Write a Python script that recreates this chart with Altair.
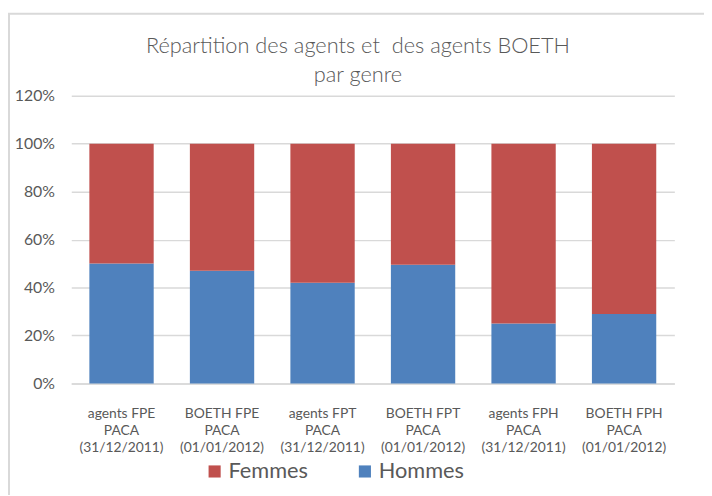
import altair as alt
import pandas as pd

categories = [
    "agents FPE|PACA|(31/12/2011)",
    "BOETH FPE|PACA|(01/01/2012)",
    "agents FPT|PACA|(31/12/2011)",
    "BOETH FPT|PACA|(01/01/2012)",
    "agents FPH|PACA|(31/12/2011)",
    "BOETH FPH|PACA|(01/01/2012)",
]
hommes = [0.50, 0.47, 0.42, 0.495, 0.25, 0.29]
femmes = [1 - h for h in hommes]
series = ["Femmes", "Hommes"]
colors = ["#C0504D", "#4F81BD"]

rows = []
for c, h, f in zip(categories, hommes, femmes):
    rows.append({"cat": c, "genre": "Hommes", "val": h, "ord": 0})
    rows.append({"cat": c, "genre": "Femmes", "val": f, "ord": 1})
df = pd.DataFrame(rows)

FONT = "Lato"
GREY = "#595959"

bars = alt.Chart(df).mark_bar().encode(
    x=alt.X("cat:N", sort=categories, title=None,
            scale=alt.Scale(paddingInner=0.36, paddingOuter=0.18),
            axis=alt.Axis(labelExpr="split(datum.label, '|')", labelAngle=0,
                          labelFontSize=14, labelColor=GREY, labelFont=FONT,
                          labelLineHeight=17.5, labelBaseline="top", labelPadding=23,
                          ticks=False, domainColor="#d9d9d9", domainWidth=1.5)),
    y=alt.Y("val:Q", stack="zero", title=None,
            scale=alt.Scale(domain=[0, 1.2], nice=False),
            axis=alt.Axis(format=".0%", values=[0, 0.2, 0.4, 0.6, 0.8, 1.0, 1.2],
                          labelFontSize=16, labelColor=GREY, labelFont=FONT,
                          labelPadding=17, ticks=False, domain=False,
                          gridColor="#d9d9d9", gridWidth=1.5)),
    color=alt.Color("genre:N", scale=alt.Scale(domain=series, range=colors),
                    legend=alt.Legend(title=None, orient="none", direction="horizontal",
                                      legendX=134, legendY=369, symbolType="square",
                                      symbolSize=150, symbolStrokeWidth=0,
                                      labelFontSize=22, labelColor=GREY, labelFont=FONT,
                                      columnPadding=46, labelOffset=3)),
    order=alt.Order("ord:Q"),
)

frame = alt.Chart(pd.DataFrame({"a": [0]})).mark_rect(
    fill=None, stroke="#d9d9d9", strokeWidth=2, clip=False
).encode(x=alt.value(-63), x2=alt.value(900), y=alt.value(-83), y2=alt.value(600))

chart = alt.layer(frame, bars).properties(
    width=610, height=291,
    title=alt.TitleParams(["Répartition des agents et \u00a0des agents BOETH", "par genre"],
                          fontSize=22, font=FONT, color=GREY, fontWeight=300,
                          anchor="middle", dx=-15, dy=75, offset=0, lineHeight=29),
    autosize=alt.AutoSizeParams(type="none"),
    padding={"left": 64, "top": 86, "right": 30, "bottom": 110},
).configure_view(stroke=None)

chart.save("out.html", embed_options={"renderer": "svg", "actions": False})
